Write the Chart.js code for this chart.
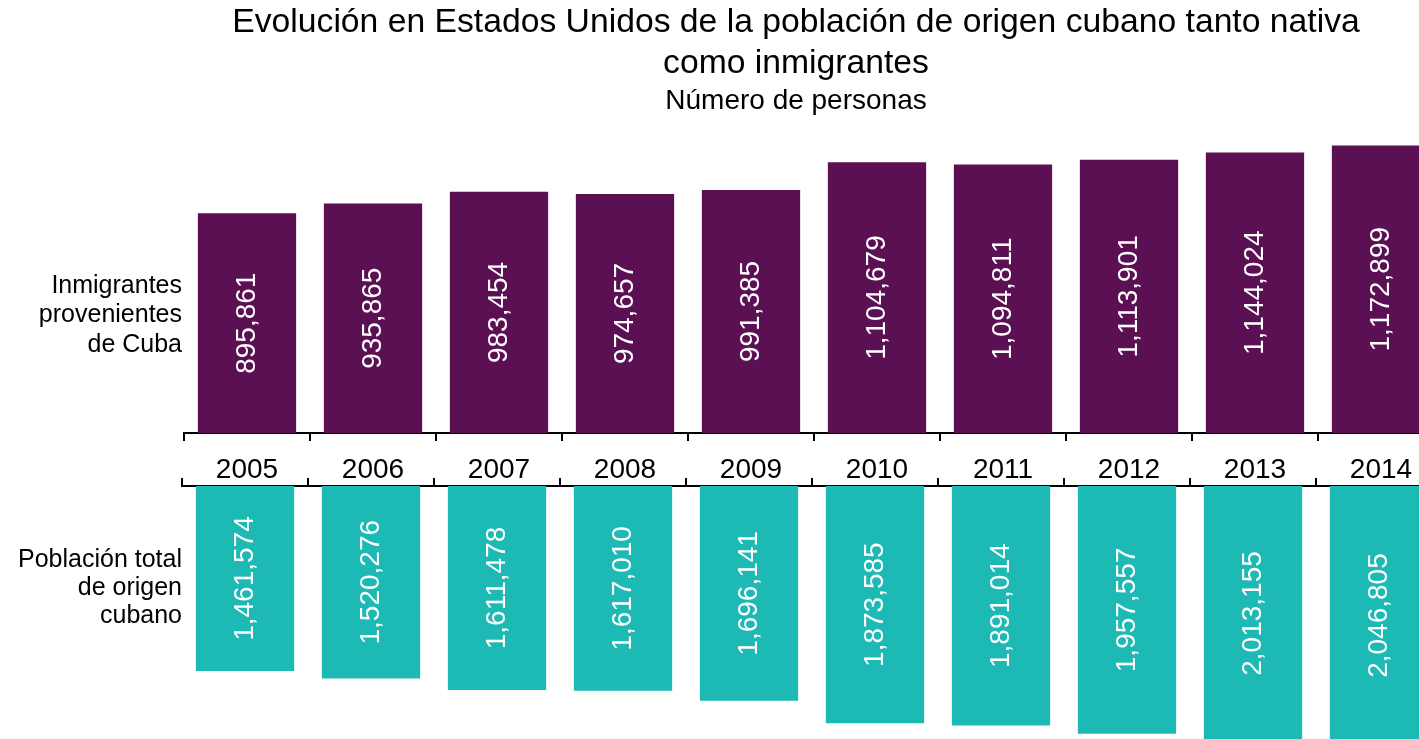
<!DOCTYPE html>
<html>
<head>
<meta charset="utf-8">
<script src="https://cdn.jsdelivr.net/npm/chart.js@4"></script>
<style>
  html, body { margin: 0; padding: 0; background: #fff; overflow: hidden; width: 1419px; height: 739px; }
  #arriba { position: absolute; left: 0; top: 0; width: 1445px; height: 487px; }
  #abajo { position: absolute; left: 0; top: 462px; width: 1443px; height: 338px; }
</style>
</head>
<body>
<div id="arriba"><canvas id="graficoArriba"></canvas></div>
<div id="abajo"><canvas id="graficoAbajo"></canvas></div>
<script>
// datos
const anios = ['2005', '2006', '2007', '2008', '2009', '2010', '2011', '2012', '2013', '2014'];
const inmigrantes = [895861, 935865, 983454, 974657, 991385, 1104679, 1094811, 1113901, 1144024, 1172899];
const poblacionTotal = [1461574, 1520276, 1611478, 1617010, 1696141, 1873585, 1891014, 1957557, 2013155, 2046805];
const etiquetaArriba = ['Inmigrantes', 'provenientes', 'de Cuba'];
const etiquetaAbajo = ['Población total', 'de origen', 'cubano'];

const fuente = '"Liberation Sans", Arial, sans-serif';
const morado = '#5b1053';
const turquesa = '#1db9b5';

Chart.defaults.font.family = fuente;
Chart.defaults.color = '#000';

// etiquetas blancas giradas dentro de cada barra
const valoresEnBarras = {
  id: 'valoresEnBarras',
  afterDatasetsDraw(chart) {
    const ctx = chart.ctx;
    const meta = chart.getDatasetMeta(0);
    const datos = chart.data.datasets[0].data;
    ctx.save();
    ctx.fillStyle = '#fff';
    ctx.font = '28px ' + fuente;
    ctx.textAlign = 'center';
    ctx.textBaseline = 'middle';
    meta.data.forEach((barra, i) => {
      ctx.save();
      ctx.translate(barra.x, (barra.y + barra.base) / 2);
      ctx.rotate(-Math.PI / 2);
      ctx.fillText(datos[i].toLocaleString('en-US'), 0, 0);
      ctx.restore();
    });
    ctx.restore();
  }
};

// texto a la izquierda de cada panel
const etiquetaLateral = {
  id: 'etiquetaLateral',
  afterDraw(chart, args, opts) {
    const ctx = chart.ctx;
    ctx.save();
    ctx.fillStyle = '#000';
    ctx.font = '25px ' + fuente;
    ctx.textAlign = 'right';
    ctx.textBaseline = 'middle';
    opts.lineas.forEach((t, i) => {
      ctx.fillText(t, opts.x, opts.y + i * opts.salto);
    });
    ctx.restore();
  }
};

function ejeY(max, invertido) {
  return {
    display: true,
    min: 0,
    max: max,
    reverse: invertido,
    ticks: { display: false },
    grid: { display: false },
    border: { display: false },
    afterFit: s => { s.width = 36; }
  };
}

new Chart(document.getElementById('graficoArriba'), {
  type: 'bar',
  data: {
    labels: anios,
    datasets: [{
      data: inmigrantes,
      backgroundColor: morado,
      categoryPercentage: 1,
      barPercentage: 0.78
    }]
  },
  options: {
    responsive: true,
    maintainAspectRatio: false,
    animation: false,
    layout: { padding: { left: 148, right: 1, top: 0, bottom: 0 } },
    plugins: {
      legend: { display: false },
      tooltip: { enabled: false },
      title: {
        display: true,
        text: ['Evolución en Estados Unidos de la población de origen cubano tanto nativa', 'como inmigrantes'],
        color: '#000',
        font: { size: 33.7, weight: 'normal', lineHeight: 1.23 },
        padding: { top: 2, bottom: 0 }
      },
      subtitle: {
        display: true,
        text: 'Número de personas',
        color: '#000',
        font: { size: 28, weight: 'normal', lineHeight: 1.2 },
        padding: { top: 0, bottom: 8 }
      },
      etiquetaLateral: { lineas: etiquetaArriba, x: 182, y: 286, salto: 29.5 }
    },
    scales: {
      x: {
        grid: { display: true, drawOnChartArea: false, drawTicks: true, tickLength: 8, color: '#000', lineWidth: 2 },
        border: { display: true, color: '#000', width: 2 },
        ticks: { color: '#000', font: { size: 28 }, padding: 12, maxRotation: 0 },
        afterFit: s => { s.height = 54; }
      },
      y: ejeY(1250000, false)
    }
  },
  plugins: [valoresEnBarras, etiquetaLateral]
});

new Chart(document.getElementById('graficoAbajo'), {
  type: 'bar',
  data: {
    labels: anios,
    datasets: [{
      data: poblacionTotal,
      backgroundColor: turquesa,
      categoryPercentage: 1,
      barPercentage: 0.78
    }]
  },
  options: {
    responsive: true,
    maintainAspectRatio: false,
    animation: false,
    layout: { padding: { left: 146, right: 1, top: 0, bottom: 0 } },
    plugins: {
      legend: { display: false },
      tooltip: { enabled: false },
      etiquetaLateral: { lineas: etiquetaAbajo, x: 182, y: 98, salto: 28 }
    },
    scales: {
      x: {
        position: 'top',
        grid: { display: true, drawOnChartArea: false, drawTicks: true, tickLength: 8, color: '#000', lineWidth: 2 },
        border: { display: true, color: '#000', width: 2 },
        ticks: { display: false },
        afterFit: s => { s.height = 24; }
      },
      y: ejeY(2480000, true)
    }
  },
  plugins: [valoresEnBarras, etiquetaLateral]
});
</script>
</body>
</html>
